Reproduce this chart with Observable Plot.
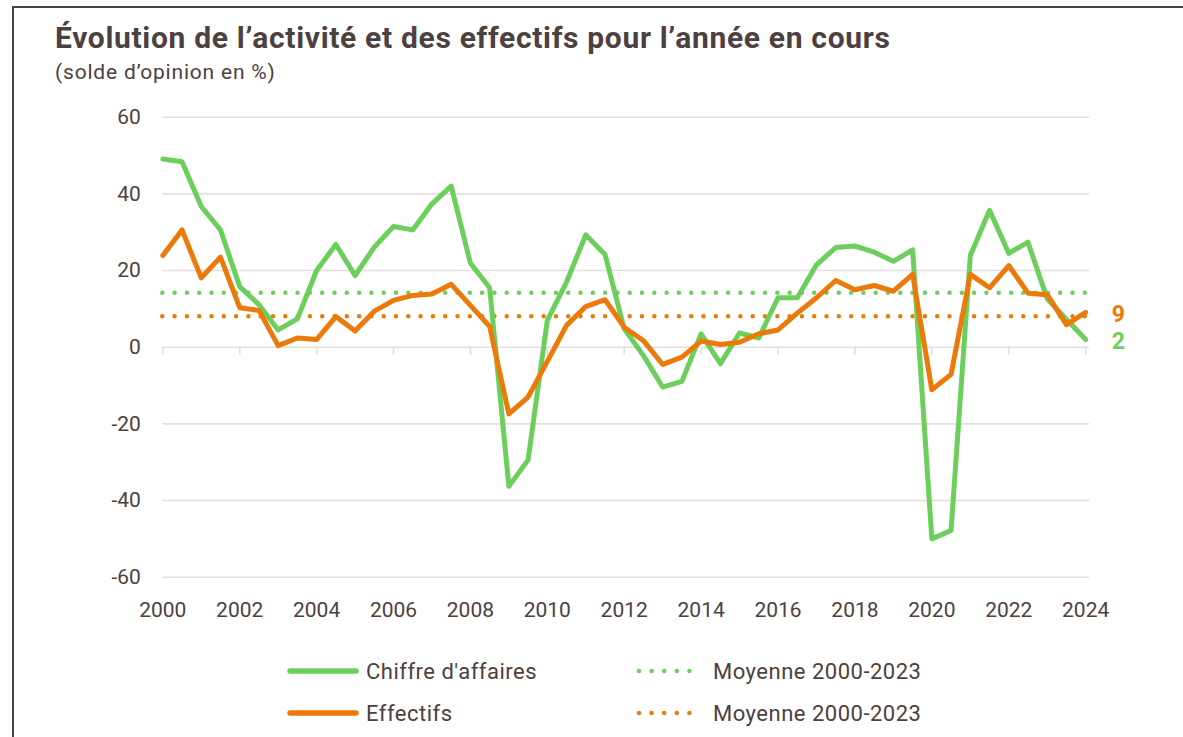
<!DOCTYPE html>
<html>
<head>
<meta charset="utf-8">
<script src="https://cdn.jsdelivr.net/npm/d3@7"></script>
<script src="https://cdn.jsdelivr.net/npm/@observablehq/plot@0.6"></script>
<style>
  html, body { margin: 0; padding: 0; background: #fff; }
  body { width: 1183px; height: 737px; position: relative; overflow: hidden; font-family: Roboto, "Noto Sans", sans-serif; color: #4d4040; }
  #frame { position: absolute; left: 12px; top: 6px; right: -10px; bottom: -10px; border-left: 2.5px solid #4d4040; border-top: 2.5px solid #4d4040; }
  #title { position: absolute; left: 55px; top: 20px; font-size: 30px; font-weight: 700; white-space: nowrap; letter-spacing: 0.68px; }
  #subtitle { position: absolute; left: 55px; top: 60px; font-size: 21px; white-space: nowrap; letter-spacing: 0.8px; }
  #chart { position: absolute; left: 0; top: 90px; }
  .leg { position: absolute; font-size: 22px; white-space: nowrap; line-height: 1; letter-spacing: 0.5px; }
  .sw { position: absolute; }
</style>
</head>
<body>
<div id="frame"></div>
<div id="title">Évolution de l’activité et des effectifs pour l’année en cours</div>
<div id="subtitle">(solde d’opinion en %)</div>
<div id="chart"></div>
<div id="legend"></div>
<script>
// ---- data ----
const years = d3.range(0, 49).map(i => 2000 + i * 0.5);
const chiffreAffaires = [
  49.1, 48.4, 36.7, 30.6, 15.8, 11.1, 4.5, 7.4, 20.0, 26.8,
  18.7, 26.1, 31.5, 30.6, 37.4, 42.0, 21.9, 15.5, -36.3, -29.4,
  7.0, 17.0, 29.3, 24.2, 4.8, -2.2, -10.4, -8.9, 3.5, -4.3,
  3.7, 2.4, 12.9, 12.9, 21.5, 26.0, 26.4, 24.8, 22.4, 25.4,
  -50.0, -47.8, 23.9, 35.7, 24.5, 27.4, 12.6, 7.3, 2.0
];
const effectifs = [
  23.9, 30.6, 18.1, 23.5, 10.3, 9.6, 0.4, 2.4, 2.0, 8.0,
  4.2, 9.4, 12.2, 13.5, 13.9, 16.4, 10.9, 5.4, -17.4, -13.0,
  -3.7, 5.7, 10.6, 12.4, 5.2, 1.7, -4.5, -2.6, 1.6, 0.7,
  1.3, 3.5, 4.5, 8.9, 12.9, 17.4, 15.0, 16.1, 14.6, 19.0,
  -11.1, -7.1, 19.0, 15.5, 21.3, 14.1, 13.7, 5.9, 9.1
];
const moyenneCA = 14.2;
const moyenneEff = 8.1;
const seriesNames = ["Chiffre d'affaires", "Effectifs"];
const meanLabel = "Moyenne 2000-2023";
const endLabels = ["2", "9"];
const xTicks = d3.range(2000, 2025, 2);
const yTicks = [-60, -40, -20, 0, 20, 40, 60];

const GREEN = "#6ccf5c";
const ORANGE = "#eb7a0a";
const GRID = "#e3dfdf";
const TEXT = "#4d4040";

const caData = years.map((x, i) => ({x, y: chiffreAffaires[i]}));
const effData = years.map((x, i) => ({x, y: effectifs[i]}));
const lastCA = caData[caData.length - 1];
const lastEff = effData[effData.length - 1];

const chart = Plot.plot({
  width: 1183,
  height: 540,
  marginLeft: 162.3,
  marginRight: 94,
  marginTop: 26.7,
  marginBottom: 53.3,
  style: {fontFamily: "Roboto, 'Noto Sans', sans-serif", fontSize: "21px", color: TEXT, background: "transparent"},
  x: {type: "linear", domain: [2000, 2024.1], label: null},
  y: {domain: [-60, 60], label: null},
  marks: [
    Plot.ruleY(yTicks, {stroke: GRID, strokeWidth: 1.6}),
    Plot.ruleX(xTicks, {x: d => d, y1: 0, y2: 0, insetBottom: -8, stroke: GRID, strokeWidth: 1.6}),
    Plot.axisY({ticks: yTicks, tickSize: 0, tickPadding: 22, fontSize: 21, fill: TEXT, label: null, tickFormat: d => String(d)}),
    Plot.axisX({ticks: xTicks, tickSize: 0, tickPadding: 25, fontSize: 21, fill: TEXT, label: null, tickFormat: d => String(d)}),
    Plot.ruleY([moyenneCA], {stroke: GREEN, strokeWidth: 4.5, strokeDasharray: "0 12.3", strokeLinecap: "round"}),
    Plot.ruleY([moyenneEff], {stroke: ORANGE, strokeWidth: 4.5, strokeDasharray: "0 12.3", strokeLinecap: "round"}),
    Plot.line(caData, {x: "x", y: "y", stroke: GREEN, strokeWidth: 5, strokeLinejoin: "round", strokeLinecap: "round"}),
    Plot.line(effData, {x: "x", y: "y", stroke: ORANGE, strokeWidth: 5, strokeLinejoin: "round", strokeLinecap: "round"}),
    Plot.text([lastEff], {x: "x", y: "y", text: () => endLabels[1], dx: 26, dy: 2, textAnchor: "start", fill: ORANGE, fontWeight: "bold", fontSize: 23}),
    Plot.text([lastCA], {x: "x", y: "y", text: () => endLabels[0], dx: 26, dy: 2, textAnchor: "start", fill: GREEN, fontWeight: "bold", fontSize: 23})
  ]
});
document.getElementById("chart").appendChild(chart);

// ---- legend ----
const legend = document.getElementById("legend");
function addSwatch(x1, x2, y, color, dotted) {
  const svg = d3.create("svg").attr("class", "sw")
    .attr("width", x2 - x1 + 10).attr("height", 12)
    .style("left", (x1 - 5) + "px").style("top", (y - 6) + "px");
  svg.append("line").attr("x1", 5).attr("x2", x2 - x1 + 5).attr("y1", 6).attr("y2", 6)
    .attr("stroke", color).attr("stroke-width", dotted ? 4.5 : 5.5)
    .attr("stroke-linecap", "round")
    .attr("stroke-dasharray", dotted ? "0 12.6" : null);
  legend.appendChild(svg.node());
}
function addText(x, y, txt) {
  const d = document.createElement("div");
  d.className = "leg";
  d.textContent = txt;
  d.style.left = x + "px";
  d.style.top = (y - 10) + "px";
  legend.appendChild(d);
}
addSwatch(290, 356, 671, GREEN, false);
addText(366, 671, seriesNames[0]);
addSwatch(639, 702, 671, GREEN, true);
addText(713, 671, meanLabel);
addSwatch(290, 356, 713, ORANGE, false);
addText(366, 713, seriesNames[1]);
addSwatch(639, 702, 713, ORANGE, true);
addText(713, 713, meanLabel);
</script>
</body>
</html>
